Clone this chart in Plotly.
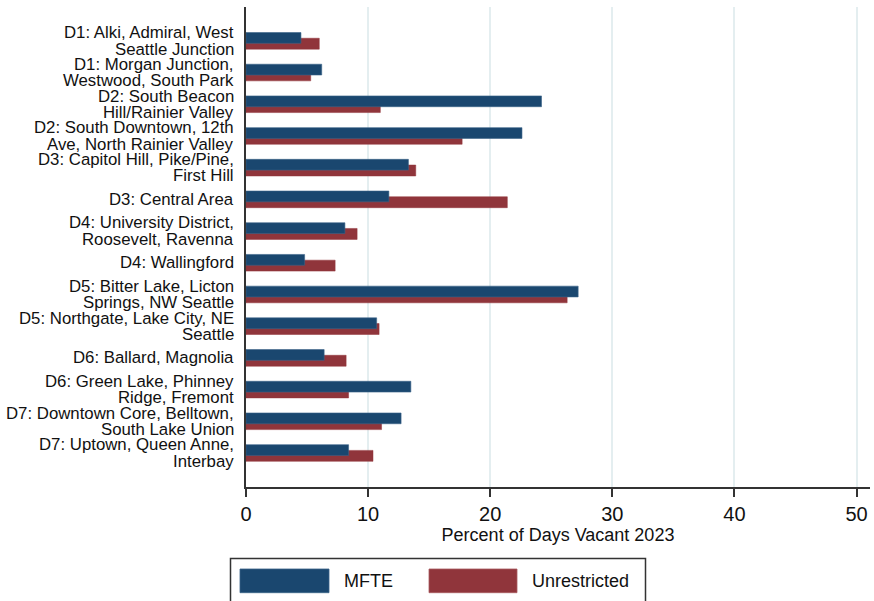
import plotly.graph_objects as go

categories = [
    "D1: Alki, Admiral, West<br>Seattle Junction",
    "D1: Morgan Junction,<br>Westwood, South Park",
    "D2: South Beacon<br>Hill/Rainier Valley",
    "D2: South Downtown, 12th<br>Ave, North Rainier Valley",
    "D3: Capitol Hill, Pike/Pine,<br>First Hill",
    "D3: Central Area",
    "D4: University District,<br>Roosevelt, Ravenna",
    "D4: Wallingford",
    "D5: Bitter Lake, Licton<br>Springs, NW Seattle",
    "D5: Northgate, Lake City, NE<br>Seattle",
    "D6: Ballard, Magnolia",
    "D6: Green Lake, Phinney<br>Ridge, Fremont",
    "D7: Downtown Core, Belltown,<br>South Lake Union",
    "D7: Uptown, Queen Anne,<br>Interbay",
]
mfte = [4.5, 6.2, 24.2, 22.6, 13.3, 11.7, 8.1, 4.8, 27.2, 10.7, 6.4, 13.5, 12.7, 8.4]
unrestricted = [6.0, 5.3, 11.0, 17.7, 13.9, 21.4, 9.1, 7.3, 26.3, 10.9, 8.2, 8.4, 11.1, 10.4]
x_ticks = [0, 10, 20, 30, 40, 50]
series_names = ["MFTE", "Unrestricted"]
x_title = "Percent of Days Vacant 2023"

BLUE = "#1a476f"
RED = "#90353b"
FONT = "Arial, Liberation Sans, sans-serif"
TXT = "#111111"

W_FIG, H_FIG = 874, 601
L, R, T, B = 246, 4, 7, 114
PW = W_FIG - L - R
PH = H_FIG - T - B


def px_x(px):
    return (px - L) / PW


def px_y(py):
    return (H_FIG - B - py) / PH


fig = go.Figure()
fig.add_trace(go.Bar(
    y=categories, x=unrestricted, orientation="h", name=series_names[1],
    marker=dict(color=RED, line=dict(color=RED, width=0.5)),
    width=0.345, offset=-0.085, showlegend=False,
))
fig.add_trace(go.Bar(
    y=categories, x=mfte, orientation="h", name=series_names[0],
    marker=dict(color=BLUE, line=dict(color="#3a6388", width=0.6)),
    width=0.34, offset=-0.265, showlegend=False,
))

annotations = []
for i, cat in enumerate(categories):
    lines = cat.split("<br>")
    if len(lines) == 1:
        ys = [i]
    else:
        ys = [i - 0.26, i + 0.26]
    for ln, yy in zip(lines, ys):
        annotations.append(dict(
            text=ln, x=0, xref="paper", y=yy, yref="y",
            xanchor="right", yanchor="middle", xshift=-10,
            showarrow=False, font=dict(family=FONT, size=16.8, color=TXT),
        ))

# custom legend
shapes = [
    dict(type="rect", xref="paper", yref="paper",
         x0=px_x(230.5), x1=px_x(645.5), y0=px_y(606), y1=px_y(558.5),
         line=dict(color="#333333", width=1.5), fillcolor="white"),
    dict(type="rect", xref="paper", yref="paper",
         x0=px_x(240), x1=px_x(329), y0=px_y(592.7), y1=px_y(569),
         line=dict(color="#3a6388", width=0.8), fillcolor=BLUE),
    dict(type="rect", xref="paper", yref="paper",
         x0=px_x(429), x1=px_x(517), y0=px_y(592.7), y1=px_y(569),
         line=dict(color="#a85a60", width=0.8), fillcolor=RED),
]
for name, lx in zip(series_names, [342, 530]):
    annotations.append(dict(
        text=name, x=px_x(lx), xref="paper", y=px_y(581), yref="paper",
        xanchor="left", yanchor="middle", showarrow=False,
        font=dict(family=FONT, size=18, color=TXT),
    ))

fig.update_layout(
    width=W_FIG, height=H_FIG,
    margin=dict(l=L, r=R, t=T, b=B, autoexpand=False),
    barmode="overlay",
    plot_bgcolor="white", paper_bgcolor="white",
    font=dict(family=FONT, color=TXT),
    annotations=annotations, shapes=shapes,
    showlegend=False,
)
fig.update_xaxes(
    range=[0, 51.1], tickvals=x_ticks, ticktext=[str(v) for v in x_ticks],
    showline=True, linecolor="#333333", linewidth=1.5,
    ticks="outside", ticklen=8, tickwidth=1.5, tickcolor="#333333",
    showgrid=True, gridcolor="#e4eef0", gridwidth=1.5, zeroline=False,
    tickfont=dict(family=FONT, size=20, color=TXT),
    title=dict(text=x_title, font=dict(family=FONT, size=18, color=TXT), standoff=2),
    automargin=False,
)
fig.update_yaxes(
    type="category", categoryorder="array", categoryarray=categories,
    range=[13 + 1.07, -1.07],
    showline=True, linecolor="#333333", linewidth=1.5,
    showticklabels=False, ticks="", showgrid=False, zeroline=False,
    automargin=False,
)

fig.write_html(
    "out.html",
    config={"displayModeBar": False},
    post_script="document.body.style.margin='0';document.body.style.overflow='hidden';",
)
